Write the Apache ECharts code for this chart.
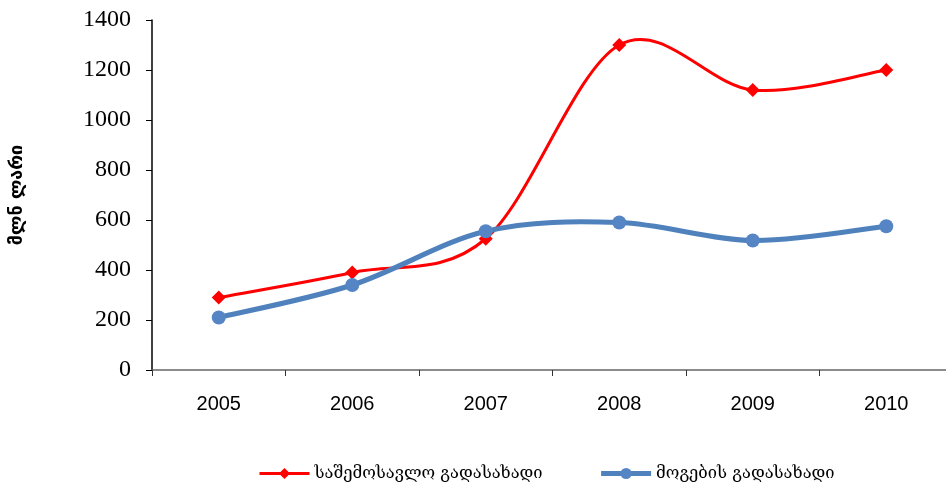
<!DOCTYPE html>
<html><head><meta charset="utf-8">
<script src="https://cdn.jsdelivr.net/npm/echarts@6/dist/echarts.min.js"></script>
<style>html,body{margin:0;padding:0;background:#fff}#c{width:946px;height:487px}</style>
</head><body><div id="c"></div>
<script>
const years = ['2005','2006','2007','2008','2009','2010'];
const incomeTax = [290, 390, 525, 1300, 1120, 1200];
const profitTax = [210, 340, 555, 590, 518, 575];
const seriesNames = ['საშემოსავლო გადასახადი', 'მოგების გადასახადი'];
const yAxisName = 'მლნ ლარი';

const RED = '#FF0000', BLUE = '#4F81BD';

// Excel-like smoothed curve: each segment is a cubic Bezier with Catmull-Rom tangents,
// with points located through the chart's own axes (api.coord).
function curveSeries(name, values, color, width, z) {
  return {
    name: name, type: 'custom', coordinateSystem: 'cartesian2d', z: z, clip: false,
    silent: true,
    data: values.slice(0, -1).map((v, i) => [i, v]),
    renderItem: function (params, api) {
      const i = params.dataIndex, n = values.length;
      const P = k => { k = Math.max(0, Math.min(n - 1, k)); return api.coord([k, values[k]]); };
      const p0 = P(i - 1), p1 = P(i), p2 = P(i + 1), p3 = P(i + 2);
      return {
        type: 'bezierCurve',
        shape: {
          x1: p1[0], y1: p1[1], x2: p2[0], y2: p2[1],
          cpx1: p1[0] + (p2[0] - p0[0]) / 6, cpy1: p1[1] + (p2[1] - p0[1]) / 6,
          cpx2: p2[0] - (p3[0] - p1[0]) / 6, cpy2: p2[1] - (p3[1] - p1[1]) / 6
        },
        style: { stroke: color, lineWidth: width, fill: null, lineCap: 'round' }
      };
    }
  };
}

const chart = echarts.init(document.getElementById('c'), null, {renderer:'canvas'});
chart.setOption({
  animation:false,
  backgroundColor:'#fff',
  grid:{left:152, top:20, width:801, height:350, containLabel:false, outerBoundsMode:'none'},
  legend:{
    bottom:0, left:253, itemGap:56, itemWidth:50, itemHeight:14,
    textStyle:{fontFamily:'DejaVu Serif', fontSize:16.5, color:'#000'},
    data:[
      {name:seriesNames[0], lineStyle:{opacity:1, width:3, color:RED}},
      {name:seriesNames[1], lineStyle:{opacity:1, width:5, color:BLUE}}
    ]
  },
  xAxis:{
    type:'category', data:years, boundaryGap:true,
    axisLine:{lineStyle:{color:'#666', width:1.5}},
    axisTick:{show:true, length:6, lineStyle:{color:'#333'}},
    axisLabel:{fontFamily:'Liberation Sans', fontSize:20, color:'#000', margin:24}
  },
  yAxis:{
    type:'value', min:0, max:1400, interval:200,
    name:yAxisName, nameLocation:'middle', nameGap:126, nameRotate:90,
    nameTextStyle:{fontFamily:'DejaVu Sans', fontWeight:'bold', fontSize:18, color:'#000'},
    axisLine:{show:true, lineStyle:{color:'#000', width:1.5}},
    axisTick:{show:true, length:6, lineStyle:{color:'#000'}},
    splitLine:{show:false},
    axisLabel:{fontFamily:'Liberation Serif', fontSize:24, color:'#000', margin:21,
               formatter: v => String(v)}
  },
  series:[
    curveSeries('c0', incomeTax, RED, 3, 2),
    {name:seriesNames[0], type:'line', data:incomeTax,
     symbol:'diamond', symbolSize:14, color:RED,
     lineStyle:{width:3, color:RED, opacity:0}, itemStyle:{color:RED}, z:3},
    curveSeries('c1', profitTax, BLUE, 5, 4),
    {name:seriesNames[1], type:'line', data:profitTax,
     symbol:'circle', symbolSize:14, color:BLUE,
     lineStyle:{width:5, color:BLUE, opacity:0}, itemStyle:{color:'#5585C5'}, z:5}
  ]
});
</script></body></html>
